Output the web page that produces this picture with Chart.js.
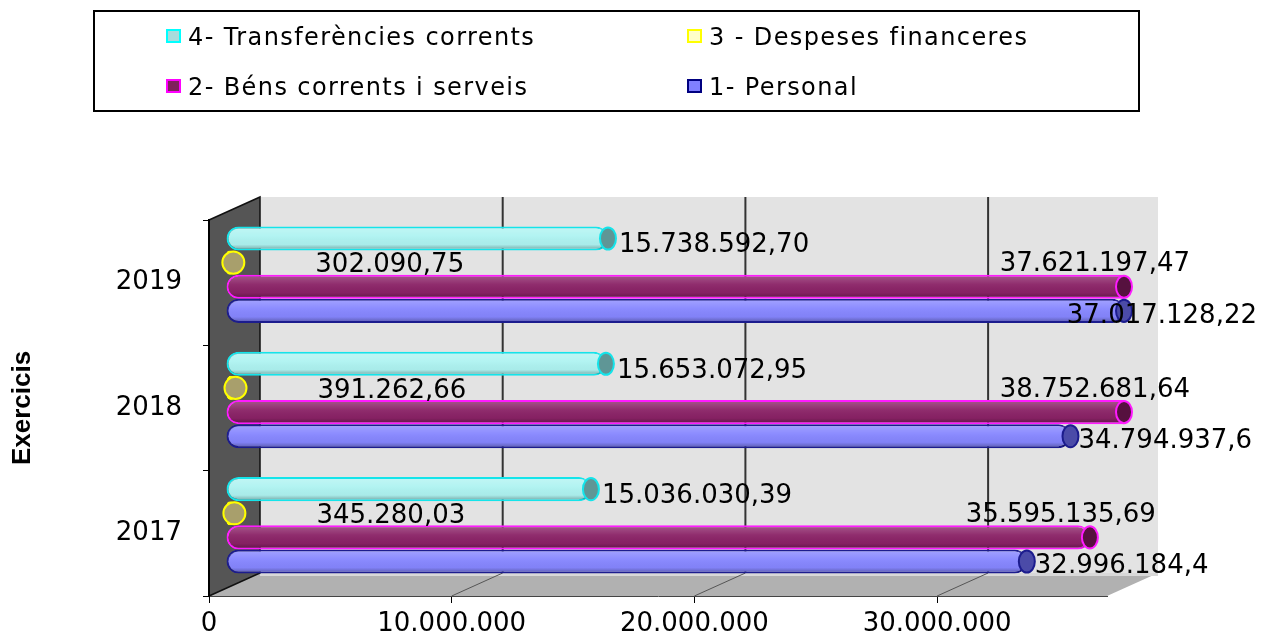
<!DOCTYPE html>
<html>
<head>
<meta charset="utf-8">
<title>Exercicis</title>
<style>
    body { margin: 0; background: #fff; }
    .wrap { position: relative; width: 1261px; height: 635px; }
    #chart { position: absolute; left: 0; top: 0; }
    .legendBox { position: absolute; left: 93px; top: 10px; width: 1047px; height: 102px;
        border: 2px solid #000; box-sizing: border-box; font-family: "DejaVu Sans"; font-size: 24px;
        letter-spacing: 1.4px; color: #000; }
    .legendBox .item { position: absolute; height: 28px; line-height: 28px; white-space: nowrap; }
    .legendBox .sw { display: inline-block; width: 15px; height: 14px; box-sizing: border-box; border: 2px solid;
        vertical-align: middle; margin-right: 7px; position: relative; top: -2px; }
</style>
</head>
<body>
<div class="wrap">
    <canvas id="chart" width="1261" height="635"></canvas>
    <div id="legend" class="legendBox"></div>
</div>
<script src="https://cdn.jsdelivr.net/npm/chart.js"></script>
<script>
    // data
    const exercicis = ['2019', '2018', '2017'];
    const seriesNames = ['4- Transferències corrents', '3 - Despeses financeres', '2- Béns corrents i serveis', '1- Personal'];
    const transferencies = [15738592.70, 15653072.95, 15036030.39];
    const despesesFinanceres = [302090.75, 391262.66, 345280.03];
    const bensServeis = [37621197.47, 38752681.64, 35595135.69];
    const personal = [37017128.22, 34794937.6, 32996184.4];
    const personalDecimals = [2, 1, 1];
    const xTicks = [0, 10000000, 20000000, 30000000];
    const axisMax = 37000000;

    // colours
    const fillColors = ['#aef3f1', '#c4bd86', '#8a2266', '#8686ff'];
    const edgeColors = ['#14e4ea', '#ffff00', '#ff1aff', '#1c1c8e'];
    const capColors = ['#5f9696', '#a89f6c', '#56113f', '#4b4ba8'];
    const legendFills = ['#a6dcdc', '#ffffc8', '#80205c', '#8080ff'];
    const legendEdges = ['#00ffff', '#ffff00', '#ff00ff', '#000080'];

    // fake 3d depth
    const WALL_DX = 51, WALL_DY = -23;
    const BAR_DX = 17, BAR_DY = -8;

    function fmtNum(v, dec){
        const parts = v.toFixed(dec).split('.');
        const ints = parts[0].replace(/\B(?=(\d{3})+(?!\d))/g, '.');
        return parts.length > 1 ? ints + ',' + parts[1] : ints;
    }

    // html legend, 2 columns
    const legend = document.getElementById('legend');
    seriesNames.forEach((name, i) => {
        const item = document.createElement('div');
        item.className = 'item';
        item.style.left = (i % 2 === 0 ? 71 : 592) + 'px';
        item.style.top = (i < 2 ? 11 : 61) + 'px';
        item.innerHTML = `<span class="sw" style="background:${legendFills[i]};border-color:${legendEdges[i]}"></span>${name}`;
        legend.appendChild(item);
    });

    const walls = {
        id: 'walls',
        beforeDraw(chart){
            const {ctx, chartArea: a, scales: {x}} = chart;
            ctx.save();
            // back wall
            ctx.fillStyle = '#e3e3e3';
            ctx.fillRect(a.left + WALL_DX, a.top + WALL_DY, a.right - a.left, a.bottom - a.top);
            // floor
            ctx.fillStyle = '#b1b1b1';
            ctx.beginPath();
            ctx.moveTo(a.left, a.bottom);
            ctx.lineTo(a.right, a.bottom);
            ctx.lineTo(a.right + WALL_DX, a.bottom + WALL_DY);
            ctx.lineTo(a.left + WALL_DX, a.bottom + WALL_DY);
            ctx.closePath();
            ctx.fill();
            ctx.fillStyle = '#d8d8d8';
            ctx.fillRect(a.left + WALL_DX, a.bottom + WALL_DY, a.right - a.left, 3);
            // side wall
            ctx.fillStyle = '#555';
            ctx.strokeStyle = '#111';
            ctx.lineWidth = 1.5;
            ctx.beginPath();
            ctx.moveTo(a.left, a.top);
            ctx.lineTo(a.left + WALL_DX, a.top + WALL_DY);
            ctx.lineTo(a.left + WALL_DX, a.bottom + WALL_DY);
            ctx.lineTo(a.left, a.bottom);
            ctx.closePath();
            ctx.fill();
            ctx.stroke();
            // grid lines on wall and floor
            x.ticks.forEach(t => {
                if (t.value === 0) return;
                const px = x.getPixelForValue(t.value);
                ctx.strokeStyle = '#333';
                ctx.lineWidth = 2;
                ctx.beginPath();
                ctx.moveTo(px + WALL_DX, a.top + WALL_DY);
                ctx.lineTo(px + WALL_DX, a.bottom + WALL_DY);
                ctx.stroke();
                ctx.strokeStyle = '#555';
                ctx.lineWidth = 1;
                ctx.beginPath();
                ctx.moveTo(px, a.bottom);
                ctx.lineTo(px + WALL_DX, a.bottom + WALL_DY);
                ctx.stroke();
            });
            ctx.restore();
        }
    };

    const cylinders = {
        id: 'cylinders',
        beforeDatasetsDraw(chart){
            chart.ctx.save();
            chart.ctx.translate(BAR_DX, BAR_DY);
        },
        afterDatasetsDraw(chart){
            const {ctx, chartArea: a} = chart;
            chart.data.datasets.forEach((ds, i) => {
                chart.getDatasetMeta(i).data.forEach(bar => {
                    const xe = Math.min(bar.x, a.right);
                    const h = bar.height;
                    const top = bar.y - h / 2;
                    // shading
                    if (xe - bar.base > 12){
                        const g = ctx.createLinearGradient(0, top, 0, top + h);
                        g.addColorStop(0, 'rgba(255,255,255,0.25)');
                        g.addColorStop(0.4, 'rgba(255,255,255,0.05)');
                        g.addColorStop(0.75, 'rgba(0,0,0,0.03)');
                        g.addColorStop(1, 'rgba(0,0,0,0.35)');
                        ctx.save();
                        ctx.beginPath();
                        ctx.roundRect(bar.base + 1, top + 2, xe - bar.base - 1, h - 4, [h / 2 - 2, 0, 0, h / 2 - 2]);
                        ctx.clip();
                        ctx.fillStyle = g;
                        ctx.fillRect(bar.base, top, xe - bar.base, h);
                        ctx.restore();
                    }
                    // end cap
                    ctx.beginPath();
                    ctx.ellipse(xe, bar.y, i === 1 ? 11 : 8, h / 2 - 1, 0, 0, Math.PI * 2);
                    ctx.fillStyle = capColors[i];
                    ctx.fill();
                    ctx.lineWidth = 2;
                    ctx.strokeStyle = edgeColors[i];
                    ctx.stroke();
                });
            });
            ctx.restore();

            // value labels
            ctx.save();
            ctx.font = '26px "DejaVu Sans"';
            ctx.fillStyle = '#000';
            ctx.textBaseline = 'middle';
            chart.data.datasets.forEach((ds, i) => {
                chart.getDatasetMeta(i).data.forEach((bar, j) => {
                    const xe = Math.min(bar.x, a.right) + BAR_DX;
                    const ye = bar.y + BAR_DY;
                    const dec = i === 3 ? personalDecimals[j] : 2;
                    const txt = fmtNum(ds.data[j], dec);
                    const w = ctx.measureText(txt).width;
                    if (i === 0){
                        ctx.textAlign = 'left';
                        ctx.fillText(txt, xe + 11, ye + 7);
                    } else if (i === 1){
                        ctx.textAlign = 'left';
                        ctx.fillText(txt, xe + 82, ye + 3);
                    } else if (i === 2){
                        ctx.textAlign = 'right';
                        ctx.fillText(txt, xe + 66, ye - 22);
                    } else {
                        ctx.textAlign = 'left';
                        ctx.fillText(txt, Math.min(xe + 8, chart.width - w - 4), ye + 5);
                    }
                });
            });
            ctx.restore();
        }
    };

    const seriesData = [transferencies, despesesFinanceres, bensServeis, personal];

    new Chart(document.getElementById('chart'), {
        type: 'bar',
        data: {
            labels: exercicis,
            datasets: seriesData.map((d, i) => ({
                label: seriesNames[i],
                data: d,
                backgroundColor: fillColors[i],
                borderColor: edgeColors[i],
                borderWidth: 2,
                borderSkipped: false,
                borderRadius: 12,
                categoryPercentage: 0.77,
                barPercentage: 1
            }))
        },
        options: {
            indexAxis: 'y',
            responsive: false,
            animation: false,
            layout: { padding: { top: 220, right: 154, left: 0, bottom: 0 } },
            plugins: {
                legend: { display: false },
                tooltip: { enabled: false }
            },
            scales: {
                x: {
                    min: 0,
                    max: axisMax,
                    afterBuildTicks: s => { s.ticks = xTicks.map(v => ({ value: v })); },
                    afterFit: s => { s.height = 39; },
                    grid: { drawOnChartArea: false, drawTicks: true, tickLength: 7, color: '#000' },
                    border: { display: true, color: '#444', width: 1 },
                    ticks: {
                        font: { family: 'DejaVu Sans', size: 26 },
                        color: '#000',
                        padding: 6,
                        maxRotation: 0,
                        autoSkip: false,
                        callback: v => fmtNum(v, 0)
                    }
                },
                y: {
                    afterFit: s => { s.width = 209; },
                    grid: { drawOnChartArea: false, tickLength: 6, color: '#000', offset: true },
                    border: { display: true, color: '#000', width: 2 },
                    ticks: { font: { family: 'DejaVu Sans', size: 26 }, color: '#000', padding: 21 },
                    title: {
                        display: true,
                        text: 'Exercicis',
                        color: '#000',
                        font: { family: 'Liberation Sans', size: 26, weight: 'bold' },
                        padding: { top: 7, bottom: 0 }
                    }
                }
            }
        },
        plugins: [walls, cylinders]
    });
</script>
</body>
</html>
